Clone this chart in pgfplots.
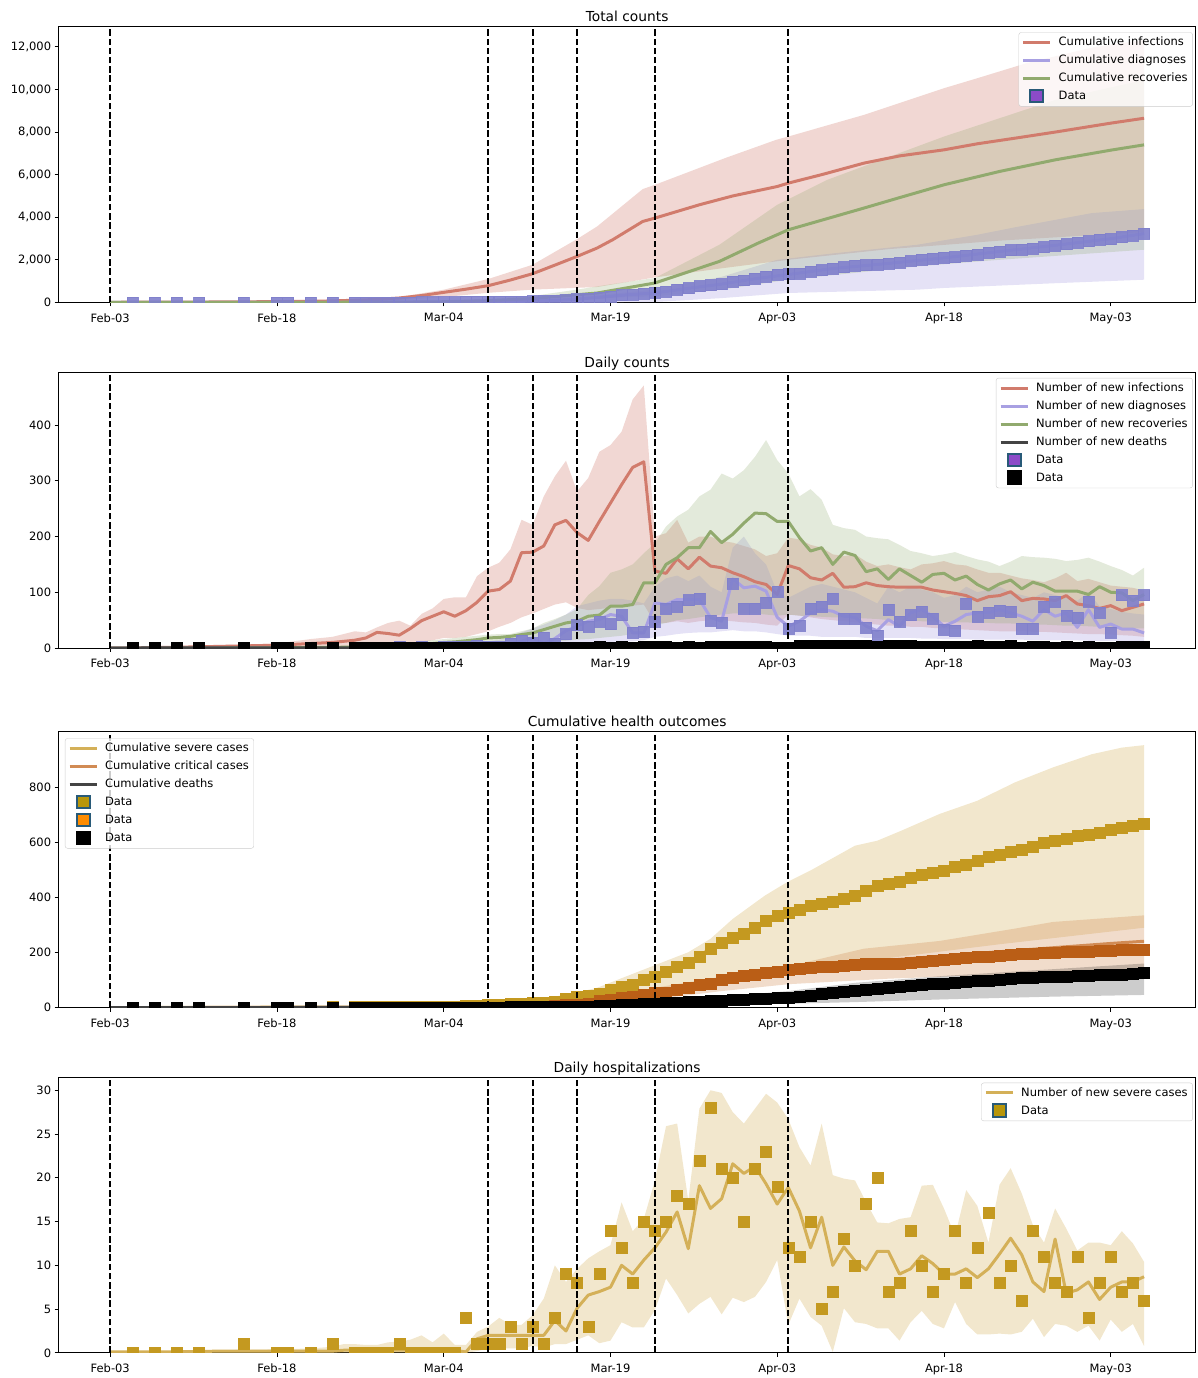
\documentclass[border=0pt]{standalone}
\usepackage{fontspec}
\setmainfont{DejaVu Sans}
\usepackage{pgfplots}
\pgfplotsset{compat=1.18}
\usepackage{pgfplotstable}
\usepgfplotslibrary{fillbetween}

\definecolor{redC}{RGB}{209,123,108}
\definecolor{diagC}{RGB}{168,160,226}
\definecolor{diagSq}{RGB}{128,128,204}
\definecolor{grnC}{RGB}{145,170,110}
\definecolor{dthC}{RGB}{68,68,68}
\definecolor{sevC}{RGB}{212,176,88}
\definecolor{sevSq}{RGB}{196,153,32}
\definecolor{critC}{RGB}{209,139,84}
\definecolor{critSq}{RGB}{186,94,22}
\definecolor{edgeB}{RGB}{40,90,120}
\definecolor{dataP}{RGB}{140,75,200}
\definecolor{legGold}{RGB}{184,150,10}
\definecolor{legOr}{RGB}{255,140,0}

\pgfplotsset{
  panel/.style={
    scale only axis, width=1138.4pt, height=276pt,
    xmin=-4.65, xmax=97.65, ymin=0,
    anchor=north west,
    axis line style={line width=0.9pt},
    tick align=outside, tick pos=left,
    major tick length=3.9pt,
    tick style={black, line width=0.9pt},
    xtick={0,15,30,45,60,75,90},
    xticklabels={Feb-03,Feb-18,Mar-04,Mar-19,Apr-03,Apr-18,May-03},
    tick label style={font=\fontsize{11.5}{13}\selectfont},
    xticklabel style={yshift=-3.5pt},
    scaled y ticks=false,
    /pgf/number format/assume math mode=true,
    /pgf/number format/1000 sep={,},
    title style={font=\fontsize{13.8}{16}\selectfont, anchor=base, at={(0.5,1)}, yshift=-1pt, inner sep=0pt},
    clip marker paths=true,
    legend cell align=left,
    legend style={font=\fontsize{11.5}{13}\selectfont, draw=black!20, rounded corners=2.5pt,
      fill=white, fill opacity=0.8, text opacity=1, inner xsep=3pt, inner ysep=4.5pt, row sep=7pt,
      nodes={inner xsep=2pt, inner ysep=0pt, text height=8.6pt, text depth=2.4pt},
      /tikz/every odd column/.append style={column sep=5pt}},
  },
  vl/.style={black, dash pattern=on 6.5pt off 2.7pt, line width=1.9pt, forget plot},
  band/.style={draw=none, forget plot},
  mline/.style={line width=3pt, line join=round, forget plot},
  sq/.style={only marks, mark=square*, mark size=5.5pt, forget plot},
}
\newcommand{\leglin}[2]{\addlegendimage{legend image code/.code={\draw[line width=3pt,#1] (0pt,0pt) -- (27pt,0pt);}}\addlegendentry{#2}}
\newcommand{\legsq}[3]{\addlegendimage{legend image code/.code={\path[draw=none, fill=none] (0pt,0pt) -- (27pt,0pt);\filldraw[overlay, fill opacity=1, sharp corners, fill=#1, draw=#2, line width=2pt] (7pt,-6pt) rectangle (20pt,6.5pt);}}\addlegendentry{#3}}

\pgfplotstableread{
d cumdiag newdiag newdeath cumsev cumcrit cumdeath newsev
2 1 1 0 0 0 0 0
4 1 0 0 0 0 0 0
6 1 0 0 0 0 0 0
8 1 0 0 0 0 0 0
12 2 1 0 1 0 0 1
15 2 0 0 1 0 0 0
16 3 1 0 1 0 0 0
18 3 0 0 1 0 0 0
20 3 0 0 2 0 0 1
22 4 1 0 2 0 0 0
23 4 0 0 2 0 0 0
24 5 1 0 2 0 0 0
25 5 0 0 2 0 0 0
26 7 2 0 3 0 0 1
27 8 1 0 3 0 0 0
28 10 2 0 3 0 0 0
29 11 1 0 3 0 0 0
30 13 2 0 3 0 0 0
31 16 3 0 3 0 0 0
32 18 2 0 7 1 0 4
33 22 4 1 8 1 1 1
34 25 3 0 9 1 1 1
35 28 3 0 10 1 1 1
36 36 8 1 13 2 2 3
37 50 14 0 14 3 2 1
38 60 10 1 17 4 3 3
39 78 18 0 18 5 3 1
40 86 8 1 22 7 4 4
41 111 25 0 31 9 4 9
42 152 41 1 39 12 5 8
43 191 39 0 42 16 5 3
44 238 47 2 51 24 7 9
45 281 43 1 65 30 8 14
46 340 59 2 77 36 10 12
47 367 27 1 85 40 11 8
48 396 29 2 100 48 13 15
49 443 47 3 114 55 16 14
50 514 71 2 129 56 18 15
51 588 74 1 147 64 19 18
52 674 86 2 164 72 21 17
53 762 88 1 186 82 22 22
54 811 49 2 214 88 24 28
55 856 45 2 235 100 26 21
56 972 116 2 255 109 28 20
57 1042 70 2 270 115 30 15
58 1112 70 2 291 118 32 21
59 1194 82 2 314 125 34 23
60 1295 101 1 333 131 35 19
61 1330 35 1 345 137 36 12
62 1370 40 4 356 140 40 11
63 1441 71 5 371 145 45 15
64 1515 74 4 376 149 49 5
65 1604 89 4 383 149 53 7
66 1657 53 4 396 153 57 13
67 1710 53 4 406 155 61 10
68 1747 37 4 423 158 65 17
69 1769 22 3 443 158 68 20
70 1838 69 4 450 161 72 7
71 1885 47 4 458 161 76 8
72 1944 59 4 472 164 80 14
73 2009 65 3 482 167 83 10
74 2062 53 3 489 170 86 7
75 2095 33 2 498 173 88 9
76 2126 31 3 512 179 91 14
77 2205 79 2 520 182 93 8
78 2262 57 4 532 186 97 12
79 2325 63 2 548 186 99 16
80 2392 67 3 556 189 102 8
81 2457 65 4 566 192 106 10
82 2492 35 1 572 194 107 6
83 2527 35 2 586 197 109 14
84 2601 74 2 597 198 111 11
85 2684 83 1 605 200 112 8
86 2742 58 2 612 204 114 7
87 2797 55 1 623 204 115 11
88 2880 83 2 627 204 117 4
89 2944 64 1 635 206 118 8
90 2972 28 1 646 208 119 11
91 3067 95 2 653 210 121 7
92 3152 85 2 661 210 123 8
93 3247 95 2 667 210 125 6
}\tData

\pgfplotstableread{
d r rU rL g gU gL b bU bL
0 0 0.5 0 0 0 0 0 0 0
5 1 2 0 0 0.5 0 0 0.3 0
10 3 5 0.5 0 1 0 0 0.5 0
15 5 8 1 0.5 1.5 0 0.3 1 0
18 8 16 2 1 2.5 0 0.5 1.5 0
20 10 20 2 1 3 0 0.5 2 0
22 14 30 3 2 5 0 1 3 0
23 18 28 3 2 5 0 1 3 0
24 28 37 5 3 6 0 1 4 0
25 26 45 6 3 7 0 1.5 4 0
26 23 49 7 4 8 0.5 1.5 5 0
27 35 40 8 5 10 0.5 2 5 0
28 49 61 10 6 12 1 2 6 0
29 57 71 14 8 14 1 2 6 0
30 65 88 18 10 16 2 3 7 0
31 57 91 18 11 18 2 3 8 0
32 67 91 20 13 20 3 3 9 0
33 82 129 25 15 22 4 4 10 0
34 102 144 30 18 24 5 4 12 0
35 105 153 38 19 25 6 5 15 0
36 120 177 45 21 25 7 8 20 0
37 171 230 55 24 30 8 12 28 0
38 172 221 62 27 35 9 18 35 0
39 183 272 70 33 45 10 8 42 0
40 221 308 78 39 52 12 17 50 0
41 229 336 82 45 60 13 31 60 2
42 207 281 72 48 70 15 39 75 4
43 193 305 68 57 95 16 48 80 6
44 227 352 70 59 111 18 51 85 8
45 260 364 72 75 135 20 60 88 10
46 293 388 75 75 141 22 57 88 12
47 324 446 76 78 150 25 27 85 12
48 334 471 78 117 170 30 27 80 14
49 138 200 45 117 188 40 81 110 20
50 134 206 45 150 218 45 78 125 22
51 160 230 48 162 236 50 87 130 25
52 142 189 45 180 248 52 87 120 27
53 163 200 48 180 272 55 87 130 28
54 147 200 50 209 284 58 55 110 28
55 144 192 50 189 313 60 48 100 30
56 135 189 48 204 304 62 124 180 32
57 128 183 46 224 319 62 108 200 30
58 119 177 45 242 343 62 111 170 30
59 114 165 42 241 373 60 102 150 28
60 96 170 40 227 337 58 55 100 25
61 148 198 60 227 313 60 39 90 22
62 142 195 58 198 272 58 48 100 22
63 126 185 55 174 285 57 63 110 22
64 122 180 52 180 266 56 69 115 20
65 134 168 50 150 221 55 66 110 20
66 109 165 48 172 215 55 57 105 20
67 110 168 46 166 212 54 55 100 20
68 117 155 44 137 200 53 39 90 18
69 112 147 42 142 197 52 31 80 18
70 110 150 40 123 195 50 51 110 18
71 109 145 40 142 185 50 39 100 18
72 109 141 38 130 174 50 63 110 18
73 109 150 38 118 170 48 69 105 17
74 104 152 36 132 165 48 57 100 17
75 101 156 35 134 168 47 39 90 16
76 98 150 34 122 172 46 48 95 16
77 94 148 33 129 165 46 60 110 16
78 85 141 32 114 159 45 63 100 15
79 92 135 31 104 155 45 63 105 15
80 94 135 30 115 147 44 69 110 15
81 101 130 30 122 155 44 63 100 15
82 85 125 30 106 165 43 57 95 15
83 89 122 29 118 163 42 48 90 14
84 88 118 29 112 162 42 69 100 14
85 85 125 28 102 160 41 57 95 14
86 94 135 27 102 156 40 63 90 14
87 79 120 26 102 158 40 37 85 14
88 76 124 25 96 162 39 69 100 13
89 71 118 25 110 155 38 37 75 13
90 76 112 24 100 147 37 43 70 13
91 67 110 23 99 140 36 34 65 12
92 73 108 22 85 130 35 34 62 12
93 79 103 20 96 144 35 27 60 12
}\tDaily

\pgfplotstableread{
d m mU mL
0 0.1 0.2 0
5 0.1 0.2 0
10 0.2 0.3 0
15 0.2 0.4 0
18 0.2 0.5 0
20 0.2 0.7 0
21 0.3 1.0 0
22 0.3 1.0 0
23 0.3 0.9 0
24 0.3 0.9 0
25 0.3 1.2 0
26 0.3 1.3 0
27 0.3 1.5 0
28 0.4 2.0 0
29 0.3 1.2 0
30 0.4 2.2 0
31 0.3 0.9 0
32 0.1 0.9 0
33 1.6 2.4 0.2
34 2.0 3.0 0.5
35 2.0 4.0 0.5
36 2.0 3.2 0.5
37 2.0 3.2 0.5
38 2.0 4.3 0.8
39 2.0 6.2 0.6
40 3.7 10.0 1.0
41 2.5 8.1 1.0
42 5.1 9.6 1.5
43 6.6 10.8 2.0
44 7.0 11.6 1.1
45 7.5 12.3 1.4
46 10.0 17.2 3.5
47 9.0 13.9 2.9
48 10.6 15.3 2.9
49 12.0 19.7 4.9
50 13.8 25.9 8.5
51 16.1 26.2 6.6
52 11.9 17.4 4.5
53 19.1 27.9 5.6
54 16.5 30.0 6.4
55 17.6 29.7 4.4
56 21.6 27.5 6.3
57 20.5 26.2 5.8
58 21.3 27.9 6.4
59 19.3 29.6 8.1
60 17.0 28.6 10.6
61 18.9 26.7 3.2
62 16.2 23.5 6.2
63 12.0 21.4 4.1
64 15.5 26.2 3.1
65 10.0 20.3 0.1
66 12.1 19.9 5.1
67 10.5 19.7 3.5
68 9.5 17.2 3.3
69 11.6 14.9 2.8
70 11.6 14.8 2.8
71 9.0 15.3 1.4
72 9.6 15.5 3.5
73 11.1 19.1 4.8
74 10.2 19.2 3.3
75 9.0 16.5 2.8
76 9.0 13.4 5.8
77 9.6 18.6 3.3
78 8.6 16.8 2.1
79 9.6 12.6 2.1
80 11.3 19.2 2.2
81 13.1 21.1 2.1
82 11.2 18.2 2.4
83 8.1 14.6 3.9
84 7.0 12.6 1.8
85 13.0 16.5 3.3
86 6.8 14.2 3.1
87 7.2 11.7 2.4
88 8.1 12.6 3.1
89 6.1 12.6 1.4
90 7.5 12.3 3.8
91 8.1 13.9 2.4
92 8.1 12.5 3.3
93 8.7 10.4 0.8
}\tHosp

\begin{document}
\begin{tikzpicture}
\path (0,0) rectangle (1199pt,-1378pt);

%================ Panel 1 =================
\begin{axis}[panel, at={(58.6pt,-26.7pt)}, ymax=12952, ytick={0,2000,...,12000},
  title={Total counts}, legend style={at={(0.99745,0.9797)}, anchor=north east}]
\addplot[band, name path=rU] coordinates {(0,5) (20,80) (26,250) (30,596) (34,1098) (38,1769) (42,2975) (43.8,3567) (47.9,5322) (49,5523) (55.3,6776) (59.9,7635) (61,7791) (67.8,8808) (75,10061) (78,10530) (82.4,11234) (88.3,11966) (93,12335)};
\addplot[band, name path=rL] coordinates {(0,0) (20,30) (26,100) (30,250) (34,450) (38,600) (43.8,722) (49,1173) (55,1600) (61,2000) (70,2500) (80,2900) (93,3300)};
\addplot[fill=redC, fill opacity=0.3, draw=none, forget plot] fill between[of=rU and rL];
\addplot[band, name path=bU] coordinates {(0,0) (30,20) (38,100) (42,250) (45,400) (49,600) (55,1200) (60,2000) (65,2300) (72.6,2708) (78,3177) (81.4,3528) (88.3,4195) (93,4383)};
\addplot[band, name path=bL] coordinates {(0,0) (45,0) (49,20) (55,200) (61,441) (72.6,596) (75,676) (85,900) (93,1065)};
\addplot[fill=diagC, fill opacity=0.3, draw=none, forget plot] fill between[of=bU and bL];
\addplot[band, name path=gU] coordinates {(0,0) (30,40) (38,300) (42,600) (45,850) (49,1145) (54.8,2708) (60,4585) (64.5,5757) (75,7790) (85,9512) (93,10450)};
\addplot[band, name path=gL] coordinates {(0,0) (38,60) (42,150) (49,282) (55,600) (61,1065) (72.6,1690) (80,2000) (93,2473)};
\addplot[fill=grnC, fill opacity=0.25, draw=none, forget plot] fill between[of=gU and gL];
\addplot[mline, redC] coordinates {(0,5) (5,10) (10,20) (15,35) (18,50) (20,70) (22,100) (24,140) (26,206) (28,320) (30,470) (32,620) (34,784) (36,1050) (38,1347) (40,1750) (42,2160) (43.8,2553) (45.2,2942) (47.9,3801) (49,3960) (53,4585) (56,5000) (60,5443) (61,5603) (64,6000) (67.8,6541) (71,6880) (75,7166) (78,7450) (81.4,7714) (85,8000) (90,8419) (93,8650)};
\addplot[mline, diagC] coordinates {(0,0) (20,3) (30,13) (35,28) (38,60) (40,90) (42,150) (44,238) (46,335) (49,443) (52,660) (55,860) (58,1110) (61,1310) (65,1590) (70,1830) (75,2090) (80,2390) (85,2680) (90,2990) (93,3230)};
\addplot[mline, grnC] coordinates {(0,0) (20,5) (26,12) (30,30) (34,80) (38,180) (42,360) (43.8,441) (49,910) (54.8,1924) (58.3,2787) (61,3411) (64,3860) (67.8,4430) (71,4920) (75,5523) (80,6150) (85,6695) (90,7150) (93,7400)};
\addplot[sq, mark options={draw=diagSq, fill=diagSq, opacity=0.9}] table[x=d, y=cumdiag] {\tData};
\addplot[vl] coordinates {(0,0) (0,12952)};
\addplot[vl] coordinates {(34,0) (34,12952)};
\addplot[vl] coordinates {(38,0) (38,12952)};
\addplot[vl] coordinates {(42,0) (42,12952)};
\addplot[vl] coordinates {(49,0) (49,12952)};
\addplot[vl] coordinates {(61,0) (61,12952)};
\leglin{redC}{Cumulative infections}
\leglin{diagC}{Cumulative diagnoses}
\leglin{grnC}{Cumulative recoveries}
\legsq{dataP}{edgeB}{Data}
\end{axis}

%================ Panel 2 =================
\begin{axis}[panel, at={(58.6pt,-372.7pt)}, ymax=494.6, ytick={0,100,...,400},
  title={Daily counts}, legend style={at={(0.99745,0.9797)}, anchor=north east}]
\addplot[band, name path=rU] table[x=d, y=rU] {\tDaily};
\addplot[band, name path=rL] table[x=d, y=rL] {\tDaily};
\addplot[fill=redC, fill opacity=0.3, draw=none, forget plot] fill between[of=rU and rL];
\addplot[band, name path=bU] table[x=d, y=bU] {\tDaily};
\addplot[band, name path=bL] table[x=d, y=bL] {\tDaily};
\addplot[fill=diagC, fill opacity=0.3, draw=none, forget plot] fill between[of=bU and bL];
\addplot[band, name path=gU] table[x=d, y=gU] {\tDaily};
\addplot[band, name path=gL] table[x=d, y=gL] {\tDaily};
\addplot[fill=grnC, fill opacity=0.25, draw=none, forget plot] fill between[of=gU and gL];
\addplot[mline, redC] table[x=d, y=r] {\tDaily};
\addplot[mline, diagC] table[x=d, y=b] {\tDaily};
\addplot[mline, grnC] table[x=d, y=g] {\tDaily};
\addplot[mline, dthC] coordinates {(0,0) (32,0.2) (40,0.7) (45,1.2) (50,2) (55,2) (60,2.5) (65,4) (70,4) (75,3) (80,3) (85,2) (90,1.5) (93,1.5)};
\addplot[sq, mark options={draw=diagSq, fill=diagSq, opacity=0.9}] table[x=d, y=newdiag] {\tData};
\addplot[sq, mark options={draw=black, fill=black}] table[x=d, y=newdeath] {\tData};
\addplot[vl] coordinates {(0,0) (0,494.6)};
\addplot[vl] coordinates {(34,0) (34,494.6)};
\addplot[vl] coordinates {(38,0) (38,494.6)};
\addplot[vl] coordinates {(42,0) (42,494.6)};
\addplot[vl] coordinates {(49,0) (49,494.6)};
\addplot[vl] coordinates {(61,0) (61,494.6)};
\leglin{redC}{Number of new infections}
\leglin{diagC}{Number of new diagnoses}
\leglin{grnC}{Number of new recoveries}
\leglin{dthC}{Number of new deaths}
\legsq{dataP}{edgeB}{Data}
\legsq{black}{black}{Data}
\end{axis}

%================ Panel 3 =================
\begin{axis}[panel, at={(58.6pt,-732.7pt)}, ymax=1001, ytick={0,200,...,800},
  title={Cumulative health outcomes}, legend style={at={(0.0056,0.977)}, anchor=north west}]
\addplot[band, name path=sU] coordinates {(0,0) (20,5) (30,10) (34,15) (38,25) (42,55) (43.8,72) (45,91) (49,154) (52,201) (54,250) (56,322) (58.9,407) (61,458) (63,498) (67,588) (69,606) (71.2,643) (74.6,703) (78,751) (81.4,818) (84.8,872) (88.3,920) (91,944) (93,953)};
\addplot[band, name path=sL] coordinates {(0,0) (40,3) (45,15) (50,40) (55,80) (61,130) (70,180) (80,230) (93,290)};
\addplot[fill=sevC, fill opacity=0.3, draw=none, forget plot] fill between[of=sU and sL];
\addplot[band, name path=cU] coordinates {(0,0) (38,8) (42,22) (45,42) (49,72) (55,112) (61,150) (67.8,214) (74.6,242) (81.4,287) (84.8,311) (93,335)};
\addplot[band, name path=cL] coordinates {(0,0) (42,6) (49,30) (55,60) (61,85) (70,105) (80,120) (93,135)};
\addplot[fill=critC, fill opacity=0.3, draw=none, forget plot] fill between[of=cU and cL];
\addplot[band, name path=dU] coordinates {(0,0) (40,6) (45,12) (49,22) (55,40) (61,60) (67,90) (75,115) (85,140) (93,160)};
\addplot[band, name path=dL] coordinates {(0,0) (45,3) (49,8) (55,12) (61,14) (67,20) (75,30) (85,40) (93,46)};
\addplot[fill=black, fill opacity=0.2, draw=none, forget plot] fill between[of=dU and dL];
\addplot[mline, sevC] coordinates {(0,0) (30,3) (34,9) (38,17) (40,22) (42,37) (44,52) (46,78) (48,100) (50,130) (52,165) (54,214) (56,255) (58,292) (60,333) (62,357) (64,378) (66,396) (68,423) (70,450) (72,472) (74,490) (76,512) (78,532) (80,556) (82,574) (84,597) (86,612) (88,627) (90,646) (92,661) (93,668)};
\addplot[mline, critC] coordinates {(0,0) (34,2) (38,6) (42,14) (45,32) (49,58) (53,85) (57,115) (61,142) (65,157) (70,172) (75,188) (80,203) (85,218) (90,233) (93,241)};
\addplot[mline, dthC] coordinates {(0,0) (33,1) (40,4) (45,8) (49,16) (54,24) (61,36) (65,53) (70,72) (75,88) (80,102) (85,112) (90,119) (93,125)};
\addplot[sq, mark options={draw=sevSq, fill=sevSq}] table[x=d, y=cumsev] {\tData};
\addplot[sq, mark options={draw=critSq, fill=critSq}] table[x=d, y=cumcrit] {\tData};
\addplot[sq, mark options={draw=black, fill=black}] table[x=d, y=cumdeath] {\tData};
\addplot[vl] coordinates {(0,0) (0,1001)};
\addplot[vl] coordinates {(34,0) (34,1001)};
\addplot[vl] coordinates {(38,0) (38,1001)};
\addplot[vl] coordinates {(42,0) (42,1001)};
\addplot[vl] coordinates {(49,0) (49,1001)};
\addplot[vl] coordinates {(61,0) (61,1001)};
\leglin{sevC}{Cumulative severe cases}
\leglin{critC}{Cumulative critical cases}
\leglin{dthC}{Cumulative deaths}
\legsq{legGold}{edgeB}{Data}
\legsq{legOr}{edgeB}{Data}
\legsq{black}{black}{Data}
\end{axis}

%================ Panel 4 =================
\begin{axis}[panel, at={(58.6pt,-1078.3pt)}, ymax=31.5, ytick={0,5,...,30},
  title={Daily hospitalizations}, legend style={at={(0.99745,0.9797)}, anchor=north east}]
\addplot[band, name path=hU] table[x=d, y=mU] {\tHosp};
\addplot[band, name path=hL] table[x=d, y=mL] {\tHosp};
\addplot[fill=sevC, fill opacity=0.3, draw=none, forget plot] fill between[of=hU and hL];
\addplot[mline, sevC] table[x=d, y=m] {\tHosp};
\addplot[sq, mark options={draw=sevSq, fill=sevSq}] table[x=d, y=newsev] {\tData};
\addplot[vl] coordinates {(0,0) (0,31.5)};
\addplot[vl] coordinates {(34,0) (34,31.5)};
\addplot[vl] coordinates {(38,0) (38,31.5)};
\addplot[vl] coordinates {(42,0) (42,31.5)};
\addplot[vl] coordinates {(49,0) (49,31.5)};
\addplot[vl] coordinates {(61,0) (61,31.5)};
\leglin{sevC}{Number of new severe cases}
\legsq{legGold}{edgeB}{Data}
\end{axis}
\end{tikzpicture}
\end{document}
